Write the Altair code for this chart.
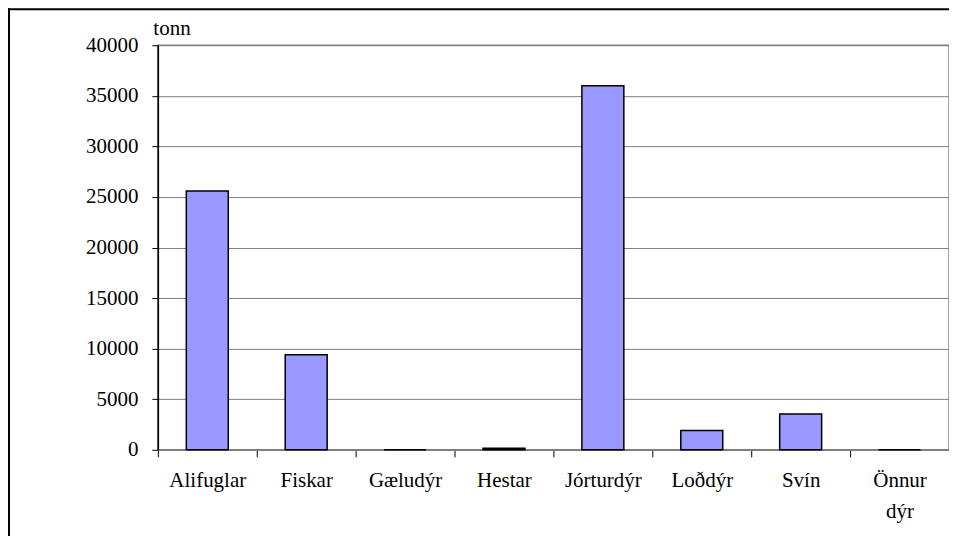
import altair as alt
import pandas as pd

categories = ["Alifuglar", "Fiskar", "Gæludýr", "Hestar", "Jórturdýr", "Loðdýr", "Svín", "Önnur dýr"]
values = [25600, 9400, 0, 150, 36000, 1900, 3550, 0]
y_ticks = [0, 5000, 10000, 15000, 20000, 25000, 30000, 35000, 40000]

df = pd.DataFrame({"cat": categories, "val": values})

FONT = "Liberation Serif"

bars = alt.Chart(df).mark_bar(
    size=42, color="#9999FF", stroke="black", strokeWidth=1.5
).encode(
    x=alt.X("cat:N", sort=categories,
            scale=alt.Scale(paddingInner=0, paddingOuter=0),
            axis=alt.Axis(title=None, labelAngle=0, tickBand="extent",
                          labelExpr="split(datum.label, ' ')",
                          labelLineHeight=31, labelPadding=13,
                          labelFontSize=21, labelFont=FONT, labelColor="black",
                          tickColor="black", tickSize=7, domainColor="#808080",
                          domainWidth=1.5, grid=False)),
    y=alt.Y("val:Q", scale=alt.Scale(domain=[0, 40000], nice=False),
            axis=alt.Axis(values=y_ticks, format="d", title="tonn", titleAngle=0,
                          titleAlign="left", titleBaseline="alphabetic",
                          titleX=-5, titleY=-11, titleFont=FONT,
                          titleFontSize=21, titleFontWeight="normal",
                          titleColor="black",
                          labelFontSize=21, labelFont=FONT, labelColor="black",
                          labelPadding=14, tickSize=6, tickColor="black",
                          domainColor="black", domainWidth=1.5,
                          grid=True, gridColor="#808080", gridWidth=1)),
)

one = alt.Data(values=[{}])
top_edge = alt.Chart(one).mark_rule(stroke="black", strokeWidth=2).encode(
    x=alt.value(-150), x2=alt.value(820), y=alt.value(-36), y2=alt.value(-36)
)
left_edge = alt.Chart(one).mark_rule(stroke="black", strokeWidth=2).encode(
    x=alt.value(-149), x2=alt.value(-149), y=alt.value(-37), y2=alt.value(520)
)

chart = alt.layer(bars, top_edge, left_edge).properties(
    width=792, height=405,
    padding={"left": 150, "top": 37, "right": 0, "bottom": 86},
    autosize=alt.AutoSizeParams(type="none"),
    background="white",
).configure_view(stroke="#808080", strokeWidth=1.5)

chart.save("out.html", embed_options={"renderer": "svg", "actions": False})
